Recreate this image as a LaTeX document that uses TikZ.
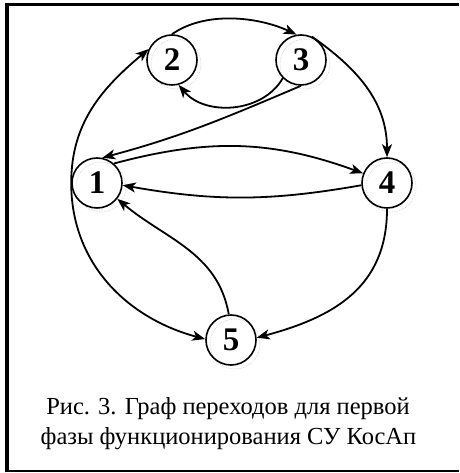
\documentclass[tikz,border=0pt]{standalone}
\usepackage{fontspec}
\setmainfont{Liberation Serif}
\usetikzlibrary{arrows.meta}
\begin{document}
\begin{tikzpicture}[x=1pt,y=1pt,
  st/.style={circle,draw,line width=1.6pt,minimum size=50pt,inner sep=0pt,font=\fontsize{33}{33}\selectfont\bfseries},
  arr/.style={line width=1.8pt,-{Stealth[length=13pt,width=10pt,inset=3.5pt]}},
  shadowc/.style={gray!35,densely dotted,line width=0.7pt},
  captext/.style={anchor=base,font=\fontsize{24.5}{24.5}\selectfont,inner sep=0pt}]
\useasboundingbox (0,0) rectangle (459,473);
\fill[white] (0,0) rectangle (459,473);
% frame
\draw[line width=4pt] (7,0.7) -- (7,470);
\draw[line width=3pt] (5,468.5) -- (459,468.5);
\draw[line width=2pt] (5,1.7) -- (459,1.7);
% shadows
\foreach \px/\py in {97/290,172/413,301/413,387/290,231/133}
  \draw[shadowc] (\px+4,\py-4) circle (25);
% nodes
\node[st] (n1) at (97,290) {1};
\node[st] (n2) at (172,413) {2};
\node[st] (n3) at (301,413) {3};
\node[st] (n4) at (387,290) {4};
\node[st] (n5) at (231,133) {5};
% edges
\draw[arr] (n1.180) to[out=90,in=-140] (n2.155);
\draw[arr] (n1.180) to[out=-90,in=165] (n5.178);
\draw[arr] (n2.90) to[out=35,in=155,looseness=0.85] (n3.100);
\draw[arr] (n3.65) to[out=-35,in=90] (n4.90);
\draw[arr] (n4.270) to[out=-90,in=15,looseness=1.1] (n5.5);
\draw[arr] (n5.95) to[out=100,in=-40] (n1.-38);
\draw[arr] (n3.-135) to[out=-120,in=-50] (n2.-75);
\draw[arr] (n3.-90) to[out=-157,in=15] (n1.78);
\draw[arr] (n1.49) to[out=15,in=160] (n4.158);
\draw[arr] (n4.185) to[out=190,in=-10] (n1.-5);
% caption
\node[captext] (c1) at (228,58) {Рис. 3. Граф переходов для первой};
\node[captext] (c2) at (228.5,28) {фазы функционирования СУ КосАп};
\end{tikzpicture}
\end{document}
